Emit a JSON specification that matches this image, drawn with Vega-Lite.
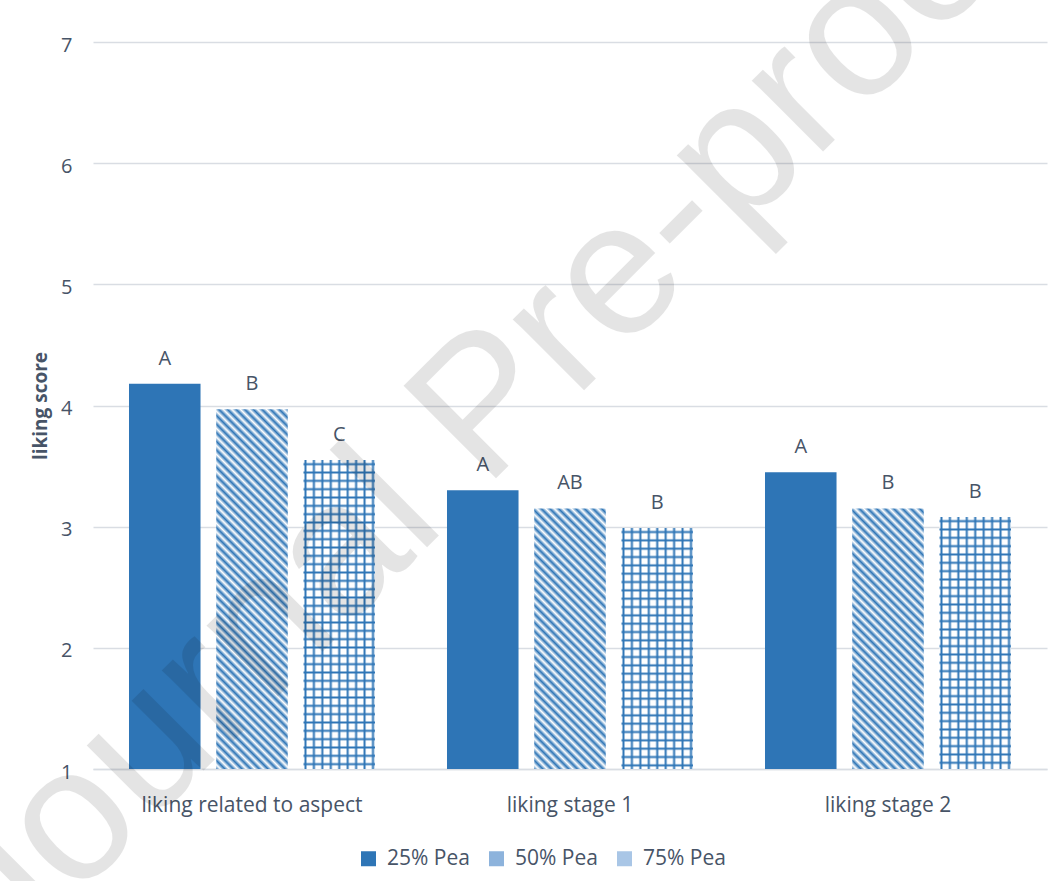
{
  "$schema": "https://vega.github.io/schema/vega-lite/v6.json",
  "width": 954,
  "height": 727,
  "autosize": {"type": "none"},
  "padding": {"left": 93, "top": 42, "right": 13, "bottom": 112},
  "background": "white",
  "config": {
    "view": {"stroke": null},
    "font": "Open Sans"
  },
  "data": {
    "values": [
      {"group": "liking related to aspect", "series": "25% Pea", "value": 4.18, "letter": "A"},
      {"group": "liking related to aspect", "series": "50% Pea", "value": 3.97, "letter": "B"},
      {"group": "liking related to aspect", "series": "75% Pea", "value": 3.55, "letter": "C"},
      {"group": "liking stage 1", "series": "25% Pea", "value": 3.30, "letter": "A"},
      {"group": "liking stage 1", "series": "50% Pea", "value": 3.15, "letter": "AB"},
      {"group": "liking stage 1", "series": "75% Pea", "value": 2.99, "letter": "B"},
      {"group": "liking stage 2", "series": "25% Pea", "value": 3.45, "letter": "A"},
      {"group": "liking stage 2", "series": "50% Pea", "value": 3.15, "letter": "B"},
      {"group": "liking stage 2", "series": "75% Pea", "value": 3.08, "letter": "B"}
    ]
  },
  "layer": [
    {
      "mark": {"type": "bar"},
      "encoding": {
        "x": {"field": "group", "type": "nominal", "sort": null,
          "scale": {"paddingInner": 0.2264, "paddingOuter": 0.1132},
          "axis": {"title": null, "labelAngle": 0, "labelLimit": 0, "domain": true, "domainColor": "#d9dde3", "domainWidth": 1.5, "ticks": false, "labelFontSize": 21, "labelFont": "Open Sans", "labelColor": "#475467", "labelPadding": 25}},
        "xOffset": {"field": "series", "type": "nominal",
          "scale": {"domain": ["25% Pea", "50% Pea", "75% Pea"], "paddingInner": 0.18, "paddingOuter": 0}},
        "y": {"field": "value", "type": "quantitative",
          "scale": {"domain": [1, 7], "nice": false, "zero": false},
          "axis": {"title": "liking score", "values": [1, 2, 3, 4, 5, 6, 7], "format": "d", "grid": true, "gridColor": "#d9dde3", "gridWidth": 1.5, "domain": false, "ticks": false, "tickSize": 0, "labelFontSize": 20, "labelFont": "Open Sans", "labelColor": "#475467", "labelPadding": 21, "labelOffset": 3, "titleFontSize": 19, "titleFont": "Open Sans", "titleFontWeight": "bold", "titleColor": "#475467", "titlePadding": 10}},
        "y2": {"datum": 1},
        "color": {"field": "series", "type": "nominal",
          "scale": {"domain": ["25% Pea", "50% Pea", "75% Pea"], "range": ["#2e75b6", "#8db3dc", "#a9c6e6"]},
          "legend": {"orient": "none", "legendX": 265, "legendY": 806, "direction": "horizontal", "title": null,
            "symbolType": "square", "symbolSize": 225, "symbolStrokeWidth": 0, "symbolOpacity": 1,
            "labelFontSize": 21, "labelFont": "Open Sans", "labelColor": "#475467", "labelOffset": 8, "columnPadding": 16},
          "condition": [
            {"test": "datum.series === '50% Pea' && datum.group === 'liking related to aspect'", "value": {"gradient": "linear", "x1": 0, "y1": 1, "x2": 0.2291, "y2": -0.1529, "stops": [
              {"offset": 0, "color": "#2e75b6"}, {"offset": 0.01, "color": "#ffffff"}, {"offset": 0.02, "color": "#2e75b6"}, {"offset": 0.03, "color": "#ffffff"}, {"offset": 0.04, "color": "#2e75b6"}, {"offset": 0.05, "color": "#ffffff"}, {"offset": 0.06, "color": "#2e75b6"}, {"offset": 0.07, "color": "#ffffff"}, {"offset": 0.08, "color": "#2e75b6"}, {"offset": 0.09, "color": "#ffffff"},
              {"offset": 0.1, "color": "#2e75b6"}, {"offset": 0.11, "color": "#ffffff"}, {"offset": 0.12, "color": "#2e75b6"}, {"offset": 0.13, "color": "#ffffff"}, {"offset": 0.14, "color": "#2e75b6"}, {"offset": 0.15, "color": "#ffffff"}, {"offset": 0.16, "color": "#2e75b6"}, {"offset": 0.17, "color": "#ffffff"}, {"offset": 0.18, "color": "#2e75b6"}, {"offset": 0.19, "color": "#ffffff"},
              {"offset": 0.2, "color": "#2e75b6"}, {"offset": 0.21, "color": "#ffffff"}, {"offset": 0.22, "color": "#2e75b6"}, {"offset": 0.23, "color": "#ffffff"}, {"offset": 0.24, "color": "#2e75b6"}, {"offset": 0.25, "color": "#ffffff"}, {"offset": 0.26, "color": "#2e75b6"}, {"offset": 0.27, "color": "#ffffff"}, {"offset": 0.28, "color": "#2e75b6"}, {"offset": 0.29, "color": "#ffffff"},
              {"offset": 0.3, "color": "#2e75b6"}, {"offset": 0.31, "color": "#ffffff"}, {"offset": 0.32, "color": "#2e75b6"}, {"offset": 0.33, "color": "#ffffff"}, {"offset": 0.34, "color": "#2e75b6"}, {"offset": 0.35, "color": "#ffffff"}, {"offset": 0.36, "color": "#2e75b6"}, {"offset": 0.37, "color": "#ffffff"}, {"offset": 0.38, "color": "#2e75b6"}, {"offset": 0.39, "color": "#ffffff"},
              {"offset": 0.4, "color": "#2e75b6"}, {"offset": 0.41, "color": "#ffffff"}, {"offset": 0.42, "color": "#2e75b6"}, {"offset": 0.43, "color": "#ffffff"}, {"offset": 0.44, "color": "#2e75b6"}, {"offset": 0.45, "color": "#ffffff"}, {"offset": 0.46, "color": "#2e75b6"}, {"offset": 0.47, "color": "#ffffff"}, {"offset": 0.48, "color": "#2e75b6"}, {"offset": 0.49, "color": "#ffffff"},
              {"offset": 0.5, "color": "#2e75b6"}, {"offset": 0.51, "color": "#ffffff"}, {"offset": 0.52, "color": "#2e75b6"}, {"offset": 0.53, "color": "#ffffff"}, {"offset": 0.54, "color": "#2e75b6"}, {"offset": 0.55, "color": "#ffffff"}, {"offset": 0.56, "color": "#2e75b6"}, {"offset": 0.57, "color": "#ffffff"}, {"offset": 0.58, "color": "#2e75b6"}, {"offset": 0.59, "color": "#ffffff"},
              {"offset": 0.6, "color": "#2e75b6"}, {"offset": 0.61, "color": "#ffffff"}, {"offset": 0.62, "color": "#2e75b6"}, {"offset": 0.63, "color": "#ffffff"}, {"offset": 0.64, "color": "#2e75b6"}, {"offset": 0.65, "color": "#ffffff"}, {"offset": 0.66, "color": "#2e75b6"}, {"offset": 0.67, "color": "#ffffff"}, {"offset": 0.68, "color": "#2e75b6"}, {"offset": 0.69, "color": "#ffffff"},
              {"offset": 0.7, "color": "#2e75b6"}, {"offset": 0.71, "color": "#ffffff"}, {"offset": 0.72, "color": "#2e75b6"}, {"offset": 0.73, "color": "#ffffff"}, {"offset": 0.74, "color": "#2e75b6"}, {"offset": 0.75, "color": "#ffffff"}, {"offset": 0.76, "color": "#2e75b6"}, {"offset": 0.77, "color": "#ffffff"}, {"offset": 0.78, "color": "#2e75b6"}, {"offset": 0.79, "color": "#ffffff"},
              {"offset": 0.8, "color": "#2e75b6"}, {"offset": 0.81, "color": "#ffffff"}, {"offset": 0.82, "color": "#2e75b6"}, {"offset": 0.83, "color": "#ffffff"}, {"offset": 0.84, "color": "#2e75b6"}, {"offset": 0.85, "color": "#ffffff"}, {"offset": 0.86, "color": "#2e75b6"}, {"offset": 0.87, "color": "#ffffff"}, {"offset": 0.88, "color": "#2e75b6"}, {"offset": 0.89, "color": "#ffffff"},
              {"offset": 0.9, "color": "#2e75b6"}, {"offset": 0.91, "color": "#ffffff"}, {"offset": 0.92, "color": "#2e75b6"}, {"offset": 0.93, "color": "#ffffff"}, {"offset": 0.94, "color": "#2e75b6"}, {"offset": 0.95, "color": "#ffffff"}, {"offset": 0.96, "color": "#2e75b6"}, {"offset": 0.97, "color": "#ffffff"}, {"offset": 0.98, "color": "#2e75b6"}, {"offset": 0.99, "color": "#ffffff"},
              {"offset": 1, "color": "#2e75b6"}]}},
            {"test": "datum.series === '50% Pea'", "value": {"gradient": "linear", "x1": 0, "y1": 1, "x2": 0.4228, "y2": -0.5397, "stops": [
              {"offset": 0, "color": "#2e75b6"}, {"offset": 0.01, "color": "#ffffff"}, {"offset": 0.02, "color": "#2e75b6"}, {"offset": 0.03, "color": "#ffffff"}, {"offset": 0.04, "color": "#2e75b6"}, {"offset": 0.05, "color": "#ffffff"}, {"offset": 0.06, "color": "#2e75b6"}, {"offset": 0.07, "color": "#ffffff"}, {"offset": 0.08, "color": "#2e75b6"}, {"offset": 0.09, "color": "#ffffff"},
              {"offset": 0.1, "color": "#2e75b6"}, {"offset": 0.11, "color": "#ffffff"}, {"offset": 0.12, "color": "#2e75b6"}, {"offset": 0.13, "color": "#ffffff"}, {"offset": 0.14, "color": "#2e75b6"}, {"offset": 0.15, "color": "#ffffff"}, {"offset": 0.16, "color": "#2e75b6"}, {"offset": 0.17, "color": "#ffffff"}, {"offset": 0.18, "color": "#2e75b6"}, {"offset": 0.19, "color": "#ffffff"},
              {"offset": 0.2, "color": "#2e75b6"}, {"offset": 0.21, "color": "#ffffff"}, {"offset": 0.22, "color": "#2e75b6"}, {"offset": 0.23, "color": "#ffffff"}, {"offset": 0.24, "color": "#2e75b6"}, {"offset": 0.25, "color": "#ffffff"}, {"offset": 0.26, "color": "#2e75b6"}, {"offset": 0.27, "color": "#ffffff"}, {"offset": 0.28, "color": "#2e75b6"}, {"offset": 0.29, "color": "#ffffff"},
              {"offset": 0.3, "color": "#2e75b6"}, {"offset": 0.31, "color": "#ffffff"}, {"offset": 0.32, "color": "#2e75b6"}, {"offset": 0.33, "color": "#ffffff"}, {"offset": 0.34, "color": "#2e75b6"}, {"offset": 0.35, "color": "#ffffff"}, {"offset": 0.36, "color": "#2e75b6"}, {"offset": 0.37, "color": "#ffffff"}, {"offset": 0.38, "color": "#2e75b6"}, {"offset": 0.39, "color": "#ffffff"},
              {"offset": 0.4, "color": "#2e75b6"}, {"offset": 0.41, "color": "#ffffff"}, {"offset": 0.42, "color": "#2e75b6"}, {"offset": 0.43, "color": "#ffffff"}, {"offset": 0.44, "color": "#2e75b6"}, {"offset": 0.45, "color": "#ffffff"}, {"offset": 0.46, "color": "#2e75b6"}, {"offset": 0.47, "color": "#ffffff"}, {"offset": 0.48, "color": "#2e75b6"}, {"offset": 0.49, "color": "#ffffff"},
              {"offset": 0.5, "color": "#2e75b6"}, {"offset": 0.51, "color": "#ffffff"}, {"offset": 0.52, "color": "#2e75b6"}, {"offset": 0.53, "color": "#ffffff"}, {"offset": 0.54, "color": "#2e75b6"}, {"offset": 0.55, "color": "#ffffff"}, {"offset": 0.56, "color": "#2e75b6"}, {"offset": 0.57, "color": "#ffffff"}, {"offset": 0.58, "color": "#2e75b6"}, {"offset": 0.59, "color": "#ffffff"},
              {"offset": 0.6, "color": "#2e75b6"}, {"offset": 0.61, "color": "#ffffff"}, {"offset": 0.62, "color": "#2e75b6"}, {"offset": 0.63, "color": "#ffffff"}, {"offset": 0.64, "color": "#2e75b6"}, {"offset": 0.65, "color": "#ffffff"}, {"offset": 0.66, "color": "#2e75b6"}, {"offset": 0.67, "color": "#ffffff"}, {"offset": 0.68, "color": "#2e75b6"}, {"offset": 0.69, "color": "#ffffff"},
              {"offset": 0.7, "color": "#2e75b6"}, {"offset": 0.71, "color": "#ffffff"}, {"offset": 0.72, "color": "#2e75b6"}, {"offset": 0.73, "color": "#ffffff"}, {"offset": 0.74, "color": "#2e75b6"}, {"offset": 0.75, "color": "#ffffff"}, {"offset": 0.76, "color": "#2e75b6"}, {"offset": 0.77, "color": "#ffffff"}, {"offset": 0.78, "color": "#2e75b6"}, {"offset": 0.79, "color": "#ffffff"},
              {"offset": 0.8, "color": "#2e75b6"}]}},
            {"test": "datum.series === '75% Pea'", "value": {"gradient": "linear", "x1": 0, "y1": 0, "x2": 1, "y2": 0, "stops": [
              {"offset": 0, "color": "#ffffff"}, {"offset": 0.028, "color": "#2e75b6"}, {"offset": 0.056, "color": "#ffffff"},
              {"offset": 0.118, "color": "#ffffff"}, {"offset": 0.146, "color": "#2e75b6"}, {"offset": 0.174, "color": "#ffffff"},
              {"offset": 0.236, "color": "#ffffff"}, {"offset": 0.264, "color": "#2e75b6"}, {"offset": 0.292, "color": "#ffffff"},
              {"offset": 0.354, "color": "#ffffff"}, {"offset": 0.382, "color": "#2e75b6"}, {"offset": 0.41, "color": "#ffffff"},
              {"offset": 0.472, "color": "#ffffff"}, {"offset": 0.5, "color": "#2e75b6"}, {"offset": 0.528, "color": "#ffffff"},
              {"offset": 0.59, "color": "#ffffff"}, {"offset": 0.618, "color": "#2e75b6"}, {"offset": 0.646, "color": "#ffffff"},
              {"offset": 0.708, "color": "#ffffff"}, {"offset": 0.736, "color": "#2e75b6"}, {"offset": 0.764, "color": "#ffffff"},
              {"offset": 0.826, "color": "#ffffff"}, {"offset": 0.854, "color": "#2e75b6"}, {"offset": 0.882, "color": "#ffffff"},
              {"offset": 0.944, "color": "#ffffff"}, {"offset": 0.972, "color": "#2e75b6"}, {"offset": 1, "color": "#ffffff"}]}}
          ]
        }
      }
    },
    {
      "transform": [{"filter": "datum.series === '75% Pea'"}],
      "mark": {"type": "bar"},
      "encoding": {
        "x": {"field": "group", "type": "nominal", "sort": null},
        "xOffset": {"field": "series", "type": "nominal", "scale": {"domain": ["25% Pea", "50% Pea", "75% Pea"]}},
        "y": {"field": "value", "type": "quantitative"},
        "y2": {"datum": 1},
        "fill": {
          "condition": [
            {"test": "datum.group === 'liking related to aspect'", "value": {"gradient": "linear", "x1": 0, "y1": 0, "x2": 0, "y2": 1.0787, "stops": [
              {"offset": 0.0065, "color": "rgba(46,117,182,0)"}, {"offset": 0.0125, "color": "#2e75b6"}, {"offset": 0.0185, "color": "rgba(46,117,182,0)"},
              {"offset": 0.0315, "color": "rgba(46,117,182,0)"}, {"offset": 0.0375, "color": "#2e75b6"}, {"offset": 0.0435, "color": "rgba(46,117,182,0)"},
              {"offset": 0.0565, "color": "rgba(46,117,182,0)"}, {"offset": 0.0625, "color": "#2e75b6"}, {"offset": 0.0685, "color": "rgba(46,117,182,0)"},
              {"offset": 0.0815, "color": "rgba(46,117,182,0)"}, {"offset": 0.0875, "color": "#2e75b6"}, {"offset": 0.0935, "color": "rgba(46,117,182,0)"},
              {"offset": 0.1065, "color": "rgba(46,117,182,0)"}, {"offset": 0.1125, "color": "#2e75b6"}, {"offset": 0.1185, "color": "rgba(46,117,182,0)"},
              {"offset": 0.1315, "color": "rgba(46,117,182,0)"}, {"offset": 0.1375, "color": "#2e75b6"}, {"offset": 0.1435, "color": "rgba(46,117,182,0)"},
              {"offset": 0.1565, "color": "rgba(46,117,182,0)"}, {"offset": 0.1625, "color": "#2e75b6"}, {"offset": 0.1685, "color": "rgba(46,117,182,0)"},
              {"offset": 0.1815, "color": "rgba(46,117,182,0)"}, {"offset": 0.1875, "color": "#2e75b6"}, {"offset": 0.1935, "color": "rgba(46,117,182,0)"},
              {"offset": 0.2065, "color": "rgba(46,117,182,0)"}, {"offset": 0.2125, "color": "#2e75b6"}, {"offset": 0.2185, "color": "rgba(46,117,182,0)"},
              {"offset": 0.2315, "color": "rgba(46,117,182,0)"}, {"offset": 0.2375, "color": "#2e75b6"}, {"offset": 0.2435, "color": "rgba(46,117,182,0)"},
              {"offset": 0.2565, "color": "rgba(46,117,182,0)"}, {"offset": 0.2625, "color": "#2e75b6"}, {"offset": 0.2685, "color": "rgba(46,117,182,0)"},
              {"offset": 0.2815, "color": "rgba(46,117,182,0)"}, {"offset": 0.2875, "color": "#2e75b6"}, {"offset": 0.2935, "color": "rgba(46,117,182,0)"},
              {"offset": 0.3065, "color": "rgba(46,117,182,0)"}, {"offset": 0.3125, "color": "#2e75b6"}, {"offset": 0.3185, "color": "rgba(46,117,182,0)"},
              {"offset": 0.3315, "color": "rgba(46,117,182,0)"}, {"offset": 0.3375, "color": "#2e75b6"}, {"offset": 0.3435, "color": "rgba(46,117,182,0)"},
              {"offset": 0.3565, "color": "rgba(46,117,182,0)"}, {"offset": 0.3625, "color": "#2e75b6"}, {"offset": 0.3685, "color": "rgba(46,117,182,0)"},
              {"offset": 0.3815, "color": "rgba(46,117,182,0)"}, {"offset": 0.3875, "color": "#2e75b6"}, {"offset": 0.3935, "color": "rgba(46,117,182,0)"},
              {"offset": 0.4065, "color": "rgba(46,117,182,0)"}, {"offset": 0.4125, "color": "#2e75b6"}, {"offset": 0.4185, "color": "rgba(46,117,182,0)"},
              {"offset": 0.4315, "color": "rgba(46,117,182,0)"}, {"offset": 0.4375, "color": "#2e75b6"}, {"offset": 0.4435, "color": "rgba(46,117,182,0)"},
              {"offset": 0.4565, "color": "rgba(46,117,182,0)"}, {"offset": 0.4625, "color": "#2e75b6"}, {"offset": 0.4685, "color": "rgba(46,117,182,0)"},
              {"offset": 0.4815, "color": "rgba(46,117,182,0)"}, {"offset": 0.4875, "color": "#2e75b6"}, {"offset": 0.4935, "color": "rgba(46,117,182,0)"},
              {"offset": 0.5065, "color": "rgba(46,117,182,0)"}, {"offset": 0.5125, "color": "#2e75b6"}, {"offset": 0.5185, "color": "rgba(46,117,182,0)"},
              {"offset": 0.5315, "color": "rgba(46,117,182,0)"}, {"offset": 0.5375, "color": "#2e75b6"}, {"offset": 0.5435, "color": "rgba(46,117,182,0)"},
              {"offset": 0.5565, "color": "rgba(46,117,182,0)"}, {"offset": 0.5625, "color": "#2e75b6"}, {"offset": 0.5685, "color": "rgba(46,117,182,0)"},
              {"offset": 0.5815, "color": "rgba(46,117,182,0)"}, {"offset": 0.5875, "color": "#2e75b6"}, {"offset": 0.5935, "color": "rgba(46,117,182,0)"},
              {"offset": 0.6065, "color": "rgba(46,117,182,0)"}, {"offset": 0.6125, "color": "#2e75b6"}, {"offset": 0.6185, "color": "rgba(46,117,182,0)"},
              {"offset": 0.6315, "color": "rgba(46,117,182,0)"}, {"offset": 0.6375, "color": "#2e75b6"}, {"offset": 0.6435, "color": "rgba(46,117,182,0)"},
              {"offset": 0.6565, "color": "rgba(46,117,182,0)"}, {"offset": 0.6625, "color": "#2e75b6"}, {"offset": 0.6685, "color": "rgba(46,117,182,0)"},
              {"offset": 0.6815, "color": "rgba(46,117,182,0)"}, {"offset": 0.6875, "color": "#2e75b6"}, {"offset": 0.6935, "color": "rgba(46,117,182,0)"},
              {"offset": 0.7065, "color": "rgba(46,117,182,0)"}, {"offset": 0.7125, "color": "#2e75b6"}, {"offset": 0.7185, "color": "rgba(46,117,182,0)"},
              {"offset": 0.7315, "color": "rgba(46,117,182,0)"}, {"offset": 0.7375, "color": "#2e75b6"}, {"offset": 0.7435, "color": "rgba(46,117,182,0)"},
              {"offset": 0.7565, "color": "rgba(46,117,182,0)"}, {"offset": 0.7625, "color": "#2e75b6"}, {"offset": 0.7685, "color": "rgba(46,117,182,0)"},
              {"offset": 0.7815, "color": "rgba(46,117,182,0)"}, {"offset": 0.7875, "color": "#2e75b6"}, {"offset": 0.7935, "color": "rgba(46,117,182,0)"},
              {"offset": 0.8065, "color": "rgba(46,117,182,0)"}, {"offset": 0.8125, "color": "#2e75b6"}, {"offset": 0.8185, "color": "rgba(46,117,182,0)"},
              {"offset": 0.8315, "color": "rgba(46,117,182,0)"}, {"offset": 0.8375, "color": "#2e75b6"}, {"offset": 0.8435, "color": "rgba(46,117,182,0)"},
              {"offset": 0.8565, "color": "rgba(46,117,182,0)"}, {"offset": 0.8625, "color": "#2e75b6"}, {"offset": 0.8685, "color": "rgba(46,117,182,0)"},
              {"offset": 0.8815, "color": "rgba(46,117,182,0)"}, {"offset": 0.8875, "color": "#2e75b6"}, {"offset": 0.8935, "color": "rgba(46,117,182,0)"},
              {"offset": 0.9065, "color": "rgba(46,117,182,0)"}, {"offset": 0.9125, "color": "#2e75b6"}, {"offset": 0.9185, "color": "rgba(46,117,182,0)"},
              {"offset": 0.9315, "color": "rgba(46,117,182,0)"}, {"offset": 0.9375, "color": "#2e75b6"}, {"offset": 0.9435, "color": "rgba(46,117,182,0)"}]}},
            {"test": "datum.group === 'liking stage 1'", "value": {"gradient": "linear", "x1": 0, "y1": 0, "x2": 0, "y2": 1.3823, "stops": [
              {"offset": 0.0065, "color": "rgba(46,117,182,0)"}, {"offset": 0.0125, "color": "#2e75b6"}, {"offset": 0.0185, "color": "rgba(46,117,182,0)"},
              {"offset": 0.0315, "color": "rgba(46,117,182,0)"}, {"offset": 0.0375, "color": "#2e75b6"}, {"offset": 0.0435, "color": "rgba(46,117,182,0)"},
              {"offset": 0.0565, "color": "rgba(46,117,182,0)"}, {"offset": 0.0625, "color": "#2e75b6"}, {"offset": 0.0685, "color": "rgba(46,117,182,0)"},
              {"offset": 0.0815, "color": "rgba(46,117,182,0)"}, {"offset": 0.0875, "color": "#2e75b6"}, {"offset": 0.0935, "color": "rgba(46,117,182,0)"},
              {"offset": 0.1065, "color": "rgba(46,117,182,0)"}, {"offset": 0.1125, "color": "#2e75b6"}, {"offset": 0.1185, "color": "rgba(46,117,182,0)"},
              {"offset": 0.1315, "color": "rgba(46,117,182,0)"}, {"offset": 0.1375, "color": "#2e75b6"}, {"offset": 0.1435, "color": "rgba(46,117,182,0)"},
              {"offset": 0.1565, "color": "rgba(46,117,182,0)"}, {"offset": 0.1625, "color": "#2e75b6"}, {"offset": 0.1685, "color": "rgba(46,117,182,0)"},
              {"offset": 0.1815, "color": "rgba(46,117,182,0)"}, {"offset": 0.1875, "color": "#2e75b6"}, {"offset": 0.1935, "color": "rgba(46,117,182,0)"},
              {"offset": 0.2065, "color": "rgba(46,117,182,0)"}, {"offset": 0.2125, "color": "#2e75b6"}, {"offset": 0.2185, "color": "rgba(46,117,182,0)"},
              {"offset": 0.2315, "color": "rgba(46,117,182,0)"}, {"offset": 0.2375, "color": "#2e75b6"}, {"offset": 0.2435, "color": "rgba(46,117,182,0)"},
              {"offset": 0.2565, "color": "rgba(46,117,182,0)"}, {"offset": 0.2625, "color": "#2e75b6"}, {"offset": 0.2685, "color": "rgba(46,117,182,0)"},
              {"offset": 0.2815, "color": "rgba(46,117,182,0)"}, {"offset": 0.2875, "color": "#2e75b6"}, {"offset": 0.2935, "color": "rgba(46,117,182,0)"},
              {"offset": 0.3065, "color": "rgba(46,117,182,0)"}, {"offset": 0.3125, "color": "#2e75b6"}, {"offset": 0.3185, "color": "rgba(46,117,182,0)"},
              {"offset": 0.3315, "color": "rgba(46,117,182,0)"}, {"offset": 0.3375, "color": "#2e75b6"}, {"offset": 0.3435, "color": "rgba(46,117,182,0)"},
              {"offset": 0.3565, "color": "rgba(46,117,182,0)"}, {"offset": 0.3625, "color": "#2e75b6"}, {"offset": 0.3685, "color": "rgba(46,117,182,0)"},
              {"offset": 0.3815, "color": "rgba(46,117,182,0)"}, {"offset": 0.3875, "color": "#2e75b6"}, {"offset": 0.3935, "color": "rgba(46,117,182,0)"},
              {"offset": 0.4065, "color": "rgba(46,117,182,0)"}, {"offset": 0.4125, "color": "#2e75b6"}, {"offset": 0.4185, "color": "rgba(46,117,182,0)"},
              {"offset": 0.4315, "color": "rgba(46,117,182,0)"}, {"offset": 0.4375, "color": "#2e75b6"}, {"offset": 0.4435, "color": "rgba(46,117,182,0)"},
              {"offset": 0.4565, "color": "rgba(46,117,182,0)"}, {"offset": 0.4625, "color": "#2e75b6"}, {"offset": 0.4685, "color": "rgba(46,117,182,0)"},
              {"offset": 0.4815, "color": "rgba(46,117,182,0)"}, {"offset": 0.4875, "color": "#2e75b6"}, {"offset": 0.4935, "color": "rgba(46,117,182,0)"},
              {"offset": 0.5065, "color": "rgba(46,117,182,0)"}, {"offset": 0.5125, "color": "#2e75b6"}, {"offset": 0.5185, "color": "rgba(46,117,182,0)"},
              {"offset": 0.5315, "color": "rgba(46,117,182,0)"}, {"offset": 0.5375, "color": "#2e75b6"}, {"offset": 0.5435, "color": "rgba(46,117,182,0)"},
              {"offset": 0.5565, "color": "rgba(46,117,182,0)"}, {"offset": 0.5625, "color": "#2e75b6"}, {"offset": 0.5685, "color": "rgba(46,117,182,0)"},
              {"offset": 0.5815, "color": "rgba(46,117,182,0)"}, {"offset": 0.5875, "color": "#2e75b6"}, {"offset": 0.5935, "color": "rgba(46,117,182,0)"},
              {"offset": 0.6065, "color": "rgba(46,117,182,0)"}, {"offset": 0.6125, "color": "#2e75b6"}, {"offset": 0.6185, "color": "rgba(46,117,182,0)"},
              {"offset": 0.6315, "color": "rgba(46,117,182,0)"}, {"offset": 0.6375, "color": "#2e75b6"}, {"offset": 0.6435, "color": "rgba(46,117,182,0)"},
              {"offset": 0.6565, "color": "rgba(46,117,182,0)"}, {"offset": 0.6625, "color": "#2e75b6"}, {"offset": 0.6685, "color": "rgba(46,117,182,0)"},
              {"offset": 0.6815, "color": "rgba(46,117,182,0)"}, {"offset": 0.6875, "color": "#2e75b6"}, {"offset": 0.6935, "color": "rgba(46,117,182,0)"},
              {"offset": 0.7065, "color": "rgba(46,117,182,0)"}, {"offset": 0.7125, "color": "#2e75b6"}, {"offset": 0.7185, "color": "rgba(46,117,182,0)"}]}}
          ],
          "value": {"gradient": "linear", "x1": 0, "y1": 0, "x2": 0, "y2": 1.3225, "stops": [
              {"offset": 0.0065, "color": "rgba(46,117,182,0)"}, {"offset": 0.0125, "color": "#2e75b6"}, {"offset": 0.0185, "color": "rgba(46,117,182,0)"},
              {"offset": 0.0315, "color": "rgba(46,117,182,0)"}, {"offset": 0.0375, "color": "#2e75b6"}, {"offset": 0.0435, "color": "rgba(46,117,182,0)"},
              {"offset": 0.0565, "color": "rgba(46,117,182,0)"}, {"offset": 0.0625, "color": "#2e75b6"}, {"offset": 0.0685, "color": "rgba(46,117,182,0)"},
              {"offset": 0.0815, "color": "rgba(46,117,182,0)"}, {"offset": 0.0875, "color": "#2e75b6"}, {"offset": 0.0935, "color": "rgba(46,117,182,0)"},
              {"offset": 0.1065, "color": "rgba(46,117,182,0)"}, {"offset": 0.1125, "color": "#2e75b6"}, {"offset": 0.1185, "color": "rgba(46,117,182,0)"},
              {"offset": 0.1315, "color": "rgba(46,117,182,0)"}, {"offset": 0.1375, "color": "#2e75b6"}, {"offset": 0.1435, "color": "rgba(46,117,182,0)"},
              {"offset": 0.1565, "color": "rgba(46,117,182,0)"}, {"offset": 0.1625, "color": "#2e75b6"}, {"offset": 0.1685, "color": "rgba(46,117,182,0)"},
              {"offset": 0.1815, "color": "rgba(46,117,182,0)"}, {"offset": 0.1875, "color": "#2e75b6"}, {"offset": 0.1935, "color": "rgba(46,117,182,0)"},
              {"offset": 0.2065, "color": "rgba(46,117,182,0)"}, {"offset": 0.2125, "color": "#2e75b6"}, {"offset": 0.2185, "color": "rgba(46,117,182,0)"},
              {"offset": 0.2315, "color": "rgba(46,117,182,0)"}, {"offset": 0.2375, "color": "#2e75b6"}, {"offset": 0.2435, "color": "rgba(46,117,182,0)"},
              {"offset": 0.2565, "color": "rgba(46,117,182,0)"}, {"offset": 0.2625, "color": "#2e75b6"}, {"offset": 0.2685, "color": "rgba(46,117,182,0)"},
              {"offset": 0.2815, "color": "rgba(46,117,182,0)"}, {"offset": 0.2875, "color": "#2e75b6"}, {"offset": 0.2935, "color": "rgba(46,117,182,0)"},
              {"offset": 0.3065, "color": "rgba(46,117,182,0)"}, {"offset": 0.3125, "color": "#2e75b6"}, {"offset": 0.3185, "color": "rgba(46,117,182,0)"},
              {"offset": 0.3315, "color": "rgba(46,117,182,0)"}, {"offset": 0.3375, "color": "#2e75b6"}, {"offset": 0.3435, "color": "rgba(46,117,182,0)"},
              {"offset": 0.3565, "color": "rgba(46,117,182,0)"}, {"offset": 0.3625, "color": "#2e75b6"}, {"offset": 0.3685, "color": "rgba(46,117,182,0)"},
              {"offset": 0.3815, "color": "rgba(46,117,182,0)"}, {"offset": 0.3875, "color": "#2e75b6"}, {"offset": 0.3935, "color": "rgba(46,117,182,0)"},
              {"offset": 0.4065, "color": "rgba(46,117,182,0)"}, {"offset": 0.4125, "color": "#2e75b6"}, {"offset": 0.4185, "color": "rgba(46,117,182,0)"},
              {"offset": 0.4315, "color": "rgba(46,117,182,0)"}, {"offset": 0.4375, "color": "#2e75b6"}, {"offset": 0.4435, "color": "rgba(46,117,182,0)"},
              {"offset": 0.4565, "color": "rgba(46,117,182,0)"}, {"offset": 0.4625, "color": "#2e75b6"}, {"offset": 0.4685, "color": "rgba(46,117,182,0)"},
              {"offset": 0.4815, "color": "rgba(46,117,182,0)"}, {"offset": 0.4875, "color": "#2e75b6"}, {"offset": 0.4935, "color": "rgba(46,117,182,0)"},
              {"offset": 0.5065, "color": "rgba(46,117,182,0)"}, {"offset": 0.5125, "color": "#2e75b6"}, {"offset": 0.5185, "color": "rgba(46,117,182,0)"},
              {"offset": 0.5315, "color": "rgba(46,117,182,0)"}, {"offset": 0.5375, "color": "#2e75b6"}, {"offset": 0.5435, "color": "rgba(46,117,182,0)"},
              {"offset": 0.5565, "color": "rgba(46,117,182,0)"}, {"offset": 0.5625, "color": "#2e75b6"}, {"offset": 0.5685, "color": "rgba(46,117,182,0)"},
              {"offset": 0.5815, "color": "rgba(46,117,182,0)"}, {"offset": 0.5875, "color": "#2e75b6"}, {"offset": 0.5935, "color": "rgba(46,117,182,0)"},
              {"offset": 0.6065, "color": "rgba(46,117,182,0)"}, {"offset": 0.6125, "color": "#2e75b6"}, {"offset": 0.6185, "color": "rgba(46,117,182,0)"},
              {"offset": 0.6315, "color": "rgba(46,117,182,0)"}, {"offset": 0.6375, "color": "#2e75b6"}, {"offset": 0.6435, "color": "rgba(46,117,182,0)"},
              {"offset": 0.6565, "color": "rgba(46,117,182,0)"}, {"offset": 0.6625, "color": "#2e75b6"}, {"offset": 0.6685, "color": "rgba(46,117,182,0)"},
              {"offset": 0.6815, "color": "rgba(46,117,182,0)"}, {"offset": 0.6875, "color": "#2e75b6"}, {"offset": 0.6935, "color": "rgba(46,117,182,0)"},
              {"offset": 0.7065, "color": "rgba(46,117,182,0)"}, {"offset": 0.7125, "color": "#2e75b6"}, {"offset": 0.7185, "color": "rgba(46,117,182,0)"},
              {"offset": 0.7315, "color": "rgba(46,117,182,0)"}, {"offset": 0.7375, "color": "#2e75b6"}, {"offset": 0.7435, "color": "rgba(46,117,182,0)"},
              {"offset": 0.7565, "color": "rgba(46,117,182,0)"}, {"offset": 0.7625, "color": "#2e75b6"}, {"offset": 0.7685, "color": "rgba(46,117,182,0)"}]}
        }
      }
    },
    {
      "mark": {"type": "text", "baseline": "alphabetic", "dy": -19, "fontSize": 20, "font": "Open Sans", "color": "#475467"},
      "encoding": {
        "x": {"field": "group", "type": "nominal", "sort": null},
        "xOffset": {"field": "series", "type": "nominal", "scale": {"domain": ["25% Pea", "50% Pea", "75% Pea"]}},
        "y": {"field": "value", "type": "quantitative"},
        "text": {"field": "letter"}
      }
    },
    {
      "data": {"values": [{"label": "Journal Pre-proof"}]},
      "mark": {"type": "text", "align": "center", "baseline": "alphabetic", "angle": -45, "dx": -62, "fontSize": 190, "font": "Liberation Sans", "color": "#000000", "opacity": 0.1},
      "encoding": {
        "x": {"datum": "liking stage 1"},
        "y": {"datum": 4.01},
        "text": {"field": "label"}
      }
    }
  ]
}
